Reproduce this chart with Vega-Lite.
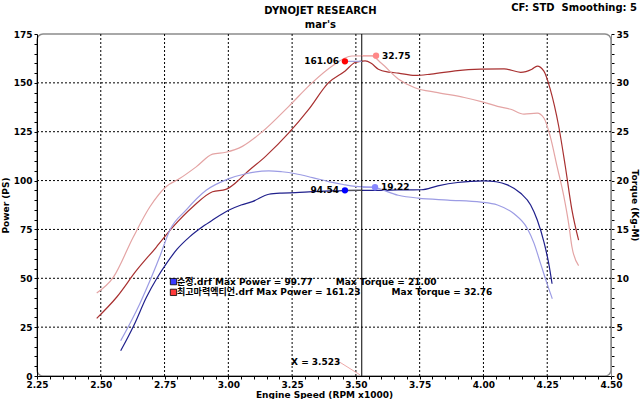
{
  "$schema": "https://vega.github.io/schema/vega-lite/v6.json",
  "width": 574,
  "height": 342,
  "autosize": "none",
  "padding": {"left": 37, "top": 34, "right": 29, "bottom": 23},
  "background": "white",
  "config": {
    "view": {"stroke": "#8c8c8c", "strokeWidth": 1.5, "cornerRadius": 6},
    "font": "DejaVu Sans",
    "axis": {
      "labelFont": "DejaVu Sans", "labelFontWeight": "bold", "labelFontSize": 9, "labelColor": "#000",
      "titleFont": "DejaVu Sans", "titleFontWeight": "bold", "titleFontSize": 9, "titleColor": "#000",
      "domainColor": "#000", "tickColor": "#000", "tickSize": 3, "grid": false, "labelOverlap": false, "labelFlush": false
    }
  },
  "datasets": {
    "curves": [
      {"series": "A-Power", "rpm": 2.578, "value": 12.9}, {"series": "A-Power", "rpm": 2.63, "value": 26.0}, {"series": "A-Power", "rpm": 2.679, "value": 40.3}, {"series": "A-Power", "rpm": 2.72, "value": 50.0}, {"series": "A-Power", "rpm": 2.757, "value": 57.5}, {"series": "A-Power", "rpm": 2.8, "value": 65.0}, {"series": "A-Power", "rpm": 2.848, "value": 71.2}, {"series": "A-Power", "rpm": 2.9, "value": 76.5}, {"series": "A-Power", "rpm": 2.938, "value": 79.8}, {"series": "A-Power", "rpm": 3.003, "value": 84.9}, {"series": "A-Power", "rpm": 3.05, "value": 87.5}, {"series": "A-Power", "rpm": 3.094, "value": 89.2}, {"series": "A-Power", "rpm": 3.159, "value": 93.0}, {"series": "A-Power", "rpm": 3.21, "value": 93.6}, {"series": "A-Power", "rpm": 3.263, "value": 93.8}, {"series": "A-Power", "rpm": 3.328, "value": 94.3}, {"series": "A-Power", "rpm": 3.4, "value": 94.7}, {"series": "A-Power", "rpm": 3.449, "value": 94.9}, {"series": "A-Power", "rpm": 3.52, "value": 95.0}, {"series": "A-Power", "rpm": 3.6, "value": 95.0}, {"series": "A-Power", "rpm": 3.666, "value": 95.2}, {"series": "A-Power", "rpm": 3.756, "value": 95.3}, {"series": "A-Power", "rpm": 3.821, "value": 97.3}, {"series": "A-Power", "rpm": 3.899, "value": 99.0}, {"series": "A-Power", "rpm": 3.95, "value": 99.6}, {"series": "A-Power", "rpm": 4.003, "value": 99.8}, {"series": "A-Power", "rpm": 4.05, "value": 99.4}, {"series": "A-Power", "rpm": 4.094, "value": 97.8}, {"series": "A-Power", "rpm": 4.146, "value": 93.5}, {"series": "A-Power", "rpm": 4.185, "value": 87.5}, {"series": "A-Power", "rpm": 4.211, "value": 79.8}, {"series": "A-Power", "rpm": 4.237, "value": 68.6}, {"series": "A-Power", "rpm": 4.256, "value": 57.5}, {"series": "A-Power", "rpm": 4.269, "value": 47.2},
      {"series": "B-Power", "rpm": 2.484, "value": 29.5}, {"series": "B-Power", "rpm": 2.562, "value": 40.3}, {"series": "B-Power", "rpm": 2.64, "value": 54.0}, {"series": "B-Power", "rpm": 2.718, "value": 66.0}, {"series": "B-Power", "rpm": 2.783, "value": 76.3}, {"series": "B-Power", "rpm": 2.861, "value": 86.6}, {"series": "B-Power", "rpm": 2.938, "value": 94.3}, {"series": "B-Power", "rpm": 2.99, "value": 95.5}, {"series": "B-Power", "rpm": 3.03, "value": 99.0}, {"series": "B-Power", "rpm": 3.069, "value": 103.8}, {"series": "B-Power", "rpm": 3.146, "value": 112.4}, {"series": "B-Power", "rpm": 3.237, "value": 124.4}, {"series": "B-Power", "rpm": 3.315, "value": 136.4}, {"series": "B-Power", "rpm": 3.393, "value": 150.1}, {"series": "B-Power", "rpm": 3.458, "value": 156.1}, {"series": "B-Power", "rpm": 3.497, "value": 160.4}, {"series": "B-Power", "rpm": 3.536, "value": 161.2}, {"series": "B-Power", "rpm": 3.56, "value": 160.0}, {"series": "B-Power", "rpm": 3.588, "value": 157.0}, {"series": "B-Power", "rpm": 3.63, "value": 155.5}, {"series": "B-Power", "rpm": 3.666, "value": 155.0}, {"series": "B-Power", "rpm": 3.731, "value": 153.8}, {"series": "B-Power", "rpm": 3.795, "value": 154.5}, {"series": "B-Power", "rpm": 3.899, "value": 156.3}, {"series": "B-Power", "rpm": 3.99, "value": 157.0}, {"series": "B-Power", "rpm": 4.081, "value": 157.2}, {"series": "B-Power", "rpm": 4.146, "value": 155.4}, {"series": "B-Power", "rpm": 4.19, "value": 157.0}, {"series": "B-Power", "rpm": 4.211, "value": 158.6}, {"series": "B-Power", "rpm": 4.237, "value": 156.0}, {"series": "B-Power", "rpm": 4.262, "value": 146.7}, {"series": "B-Power", "rpm": 4.295, "value": 127.8}, {"series": "B-Power", "rpm": 4.321, "value": 107.2}, {"series": "B-Power", "rpm": 4.347, "value": 84.9}, {"series": "B-Power", "rpm": 4.373, "value": 69.5},
      {"series": "A-Torque", "rpm": 2.578, "value": 3.6}, {"series": "A-Torque", "rpm": 2.653, "value": 7.4}, {"series": "A-Torque", "rpm": 2.7, "value": 10.2}, {"series": "A-Torque", "rpm": 2.731, "value": 12.2}, {"series": "A-Torque", "rpm": 2.77, "value": 14.9}, {"series": "A-Torque", "rpm": 2.835, "value": 17.0}, {"series": "A-Torque", "rpm": 2.913, "value": 19.0}, {"series": "A-Torque", "rpm": 3.003, "value": 20.2}, {"series": "A-Torque", "rpm": 3.069, "value": 20.7}, {"series": "A-Torque", "rpm": 3.159, "value": 21.0}, {"series": "A-Torque", "rpm": 3.21, "value": 20.9}, {"series": "A-Torque", "rpm": 3.263, "value": 20.7}, {"series": "A-Torque", "rpm": 3.33, "value": 20.3}, {"series": "A-Torque", "rpm": 3.393, "value": 19.9}, {"series": "A-Torque", "rpm": 3.45, "value": 19.6}, {"series": "A-Torque", "rpm": 3.497, "value": 19.4}, {"series": "A-Torque", "rpm": 3.568, "value": 19.3}, {"series": "A-Torque", "rpm": 3.666, "value": 18.5}, {"series": "A-Torque", "rpm": 3.744, "value": 18.2}, {"series": "A-Torque", "rpm": 3.861, "value": 18.0}, {"series": "A-Torque", "rpm": 3.99, "value": 17.8}, {"series": "A-Torque", "rpm": 4.055, "value": 17.5}, {"series": "A-Torque", "rpm": 4.12, "value": 16.6}, {"series": "A-Torque", "rpm": 4.172, "value": 15.1}, {"series": "A-Torque", "rpm": 4.198, "value": 13.6}, {"series": "A-Torque", "rpm": 4.224, "value": 11.5}, {"series": "A-Torque", "rpm": 4.25, "value": 9.4}, {"series": "A-Torque", "rpm": 4.27, "value": 7.9},
      {"series": "B-Torque", "rpm": 2.484, "value": 8.5}, {"series": "B-Torque", "rpm": 2.549, "value": 10.1}, {"series": "B-Torque", "rpm": 2.627, "value": 14.2}, {"series": "B-Torque", "rpm": 2.692, "value": 17.3}, {"series": "B-Torque", "rpm": 2.757, "value": 19.4}, {"series": "B-Torque", "rpm": 2.809, "value": 20.2}, {"series": "B-Torque", "rpm": 2.874, "value": 21.4}, {"series": "B-Torque", "rpm": 2.938, "value": 22.7}, {"series": "B-Torque", "rpm": 2.99, "value": 22.9}, {"series": "B-Torque", "rpm": 3.055, "value": 23.5}, {"series": "B-Torque", "rpm": 3.133, "value": 25.0}, {"series": "B-Torque", "rpm": 3.237, "value": 27.6}, {"series": "B-Torque", "rpm": 3.328, "value": 30.0}, {"series": "B-Torque", "rpm": 3.406, "value": 31.7}, {"series": "B-Torque", "rpm": 3.484, "value": 32.75}, {"series": "B-Torque", "rpm": 3.562, "value": 32.76}, {"series": "B-Torque", "rpm": 3.6, "value": 32.0}, {"series": "B-Torque", "rpm": 3.666, "value": 30.4}, {"series": "B-Torque", "rpm": 3.731, "value": 29.5}, {"series": "B-Torque", "rpm": 3.821, "value": 29.0}, {"series": "B-Torque", "rpm": 3.925, "value": 28.5}, {"series": "B-Torque", "rpm": 4.003, "value": 28.0}, {"series": "B-Torque", "rpm": 4.055, "value": 27.6}, {"series": "B-Torque", "rpm": 4.107, "value": 27.3}, {"series": "B-Torque", "rpm": 4.159, "value": 26.8}, {"series": "B-Torque", "rpm": 4.211, "value": 26.9}, {"series": "B-Torque", "rpm": 4.237, "value": 26.4}, {"series": "B-Torque", "rpm": 4.262, "value": 24.5}, {"series": "B-Torque", "rpm": 4.289, "value": 21.4}, {"series": "B-Torque", "rpm": 4.315, "value": 18.4}, {"series": "B-Torque", "rpm": 4.334, "value": 15.6}, {"series": "B-Torque", "rpm": 4.347, "value": 13.2}, {"series": "B-Torque", "rpm": 4.373, "value": 11.3}
    ],
    "markers": [
      {"id": "b", "rpm": 3.457, "ps": 95.0, "label": "94.54", "side": "left"},
      {"id": "lb", "rpm": 3.575, "ps": 96.6, "label": "19.22", "side": "right"},
      {"id": "r", "rpm": 3.457, "ps": 161.0, "label": "161.06", "side": "left"},
      {"id": "lr", "rpm": 3.579, "ps": 163.9, "label": "32.75", "side": "right"}
    ],
    "connectors": [
      {"id": "b", "rpm": 3.457, "rpm2": 3.523, "ps": 95.0},
      {"id": "lb", "rpm": 3.523, "rpm2": 3.575, "ps": 96.6},
      {"id": "r", "rpm": 3.457, "rpm2": 3.523, "ps": 161.0},
      {"id": "lr", "rpm": 3.523, "rpm2": 3.579, "ps": 163.9}
    ],
    "legendRows": [
      {"id": "A", "rpm": 2.785, "ps": 48.3},
      {"id": "B", "rpm": 2.785, "ps": 42.8}
    ],
    "texts": [
      {"rpm": 2.799, "ps": 48.3, "t": "순정.drf Max Power = 99.77"},
      {"rpm": 3.421, "ps": 48.3, "t": "Max Torque = 21.00"},
      {"rpm": 2.799, "ps": 42.8, "t": "최고마력엑티언.drf Max Power = 161.23"},
      {"rpm": 3.64, "ps": 42.8, "t": "Max Torque = 32.76"},
      {"rpm": 3.246, "ps": 7.2, "t": "X = 3.523"}
    ],
    "headers": [
      {"rpm": 3.361, "ps": 186.8, "t": "DYNOJET RESEARCH", "pos": "center"},
      {"rpm": 3.361, "ps": 179.6, "t": "mar's", "pos": "center"},
      {"rpm": 4.602, "ps": 188.4, "t": "CF: STD\u00a0\u00a0Smoothing: 5", "pos": "right"}
    ],
    "vgrid": [{"rpm": 2.5}, {"rpm": 2.75}, {"rpm": 3.0}, {"rpm": 3.25}, {"rpm": 3.5}, {"rpm": 3.75}, {"rpm": 4.0}, {"rpm": 4.25}],
    "hgrid": [{"ps": 25}, {"ps": 50}, {"ps": 75}, {"ps": 100}, {"ps": 125}, {"ps": 150}]
  },
  "layer": [
    {
      "data": {"name": "vgrid"},
      "mark": {"type": "rule", "color": "#000", "strokeWidth": 1, "strokeDash": [2, 2]},
      "encoding": {
        "x": {
          "field": "rpm", "type": "quantitative",
          "scale": {"domain": [2.25, 4.5], "nice": false, "zero": false},
          "axis": {
            "title": "Engine Speed (RPM x1000)",
            "values": [2.25, 2.3, 2.35, 2.4, 2.45, 2.5, 2.55, 2.6, 2.65, 2.7, 2.75, 2.8, 2.85, 2.9, 2.95, 3.0, 3.05, 3.1, 3.15, 3.2, 3.25, 3.3, 3.35, 3.4, 3.45, 3.5, 3.55, 3.6, 3.65, 3.7, 3.75, 3.8, 3.85, 3.9, 3.95, 4.0, 4.05, 4.1, 4.15, 4.2, 4.25, 4.3, 4.35, 4.4, 4.45, 4.5],
            "labelExpr": "abs(datum.value * 4 - round(datum.value * 4)) < 0.001 ? format(datum.value, '.2f') : ''",
            "labelPadding": 1, "titlePadding": 1, "labelFlush": false, "labelOverlap": false
          }
        }
      }
    },
    {
      "data": {"name": "hgrid"},
      "mark": {"type": "rule", "color": "#000", "strokeWidth": 1, "strokeDash": [2, 2]},
      "encoding": {
        "y": {
          "field": "ps", "type": "quantitative",
          "scale": {"domain": [0, 175], "nice": false},
          "axis": {
            "orient": "left",
            "title": "Power (PS)",
            "values": [0, 5, 10, 15, 20, 25, 30, 35, 40, 45, 50, 55, 60, 65, 70, 75, 80, 85, 90, 95, 100, 105, 110, 115, 120, 125, 130, 135, 140, 145, 150, 155, 160, 165, 170, 175],
            "labelExpr": "datum.value % 25 == 0 ? datum.label : ''",
            "labelPadding": 2, "titlePadding": 3, "labelOverlap": false
          }
        }
      }
    },
    {
      "data": {"name": "curves"},
      "transform": [{"filter": "indexof(datum.series, 'Power') >= 0"}],
      "mark": {"type": "line", "strokeWidth": 1.2, "interpolate": "monotone"},
      "encoding": {
        "x": {"field": "rpm", "type": "quantitative", "scale": {"domain": [2.25, 4.5], "nice": false, "zero": false}, "axis": null},
        "y": {"field": "value", "type": "quantitative", "scale": {"domain": [0, 175], "nice": false}, "axis": null},
        "color": {"field": "series", "type": "nominal", "legend": null,
          "scale": {"domain": ["A-Power", "A-Torque", "B-Power", "B-Torque"], "range": ["#20208c", "#9c9ce4", "#a83030", "#e4a4a4"]}}
      }
    },
    {
      "data": {"name": "curves"},
      "transform": [{"filter": "indexof(datum.series, 'Torque') >= 0"}],
      "mark": {"type": "line", "strokeWidth": 1.2, "interpolate": "monotone"},
      "encoding": {
        "x": {"field": "rpm", "type": "quantitative", "scale": {"domain": [2.25, 4.5], "nice": false, "zero": false}, "axis": null},
        "y": {
          "field": "value", "type": "quantitative",
          "scale": {"domain": [0, 35], "nice": false},
          "axis": {
            "orient": "right",
            "title": "Torque (Kg-M)",
            "values": [0, 1, 2, 3, 4, 5, 6, 7, 8, 9, 10, 11, 12, 13, 14, 15, 16, 17, 18, 19, 20, 21, 22, 23, 24, 25, 26, 27, 28, 29, 30, 31, 32, 33, 34, 35],
            "labelExpr": "datum.value % 5 == 0 ? datum.label : ''",
            "domainColor": "#8c8c8c",
            "labelPadding": 2, "titlePadding": 1, "labelOverlap": false
          }
        },
        "color": {"field": "series", "type": "nominal", "legend": null}
      }
    },
    {
      "data": {"values": [{"rpm": 3.523}]},
      "mark": {"type": "rule", "color": "#000", "strokeWidth": 1},
      "encoding": {"x": {"field": "rpm", "type": "quantitative", "scale": {"domain": [2.25, 4.5], "nice": false, "zero": false}, "axis": null}}
    },
    {
      "data": {"name": "connectors"},
      "mark": {"type": "rule", "strokeWidth": 1.2},
      "encoding": {
        "x": {"field": "rpm", "type": "quantitative", "scale": {"domain": [2.25, 4.5], "nice": false, "zero": false}, "axis": null},
        "x2": {"field": "rpm2"},
        "y": {"field": "ps", "type": "quantitative", "scale": {"domain": [0, 175], "nice": false}, "axis": null},
        "stroke": {"field": "id", "type": "nominal", "legend": null,
          "scale": {"domain": ["b", "lb", "r", "lr"], "range": ["#555555", "#9a9aee", "#a0a0dc", "#f0a8a8"]}}
      }
    },
    {
      "data": {"values": [{"rpm": 3.418, "rpm2": 3.516, "ps": 8.6, "ps2": 0.6}]},
      "mark": {"type": "rule", "color": "#e89090", "strokeWidth": 0.8},
      "encoding": {
        "x": {"field": "rpm", "type": "quantitative", "scale": {"domain": [2.25, 4.5], "nice": false, "zero": false}, "axis": null},
        "x2": {"field": "rpm2"},
        "y": {"field": "ps", "type": "quantitative", "scale": {"domain": [0, 175], "nice": false}, "axis": null},
        "y2": {"field": "ps2"}
      }
    },
    {
      "data": {"name": "markers"},
      "mark": {"type": "point", "filled": true, "shape": "circle", "size": 40, "opacity": 1},
      "encoding": {
        "x": {"field": "rpm", "type": "quantitative", "scale": {"domain": [2.25, 4.5], "nice": false, "zero": false}, "axis": null},
        "y": {"field": "ps", "type": "quantitative", "scale": {"domain": [0, 175], "nice": false}, "axis": null},
        "fill": {"field": "id", "type": "nominal", "legend": null,
          "scale": {"domain": ["b", "lb", "r", "lr", "A", "B"], "range": ["#0000ff", "#8888ff", "#ff0000", "#ff8888", "#3a3aff", "#ff3a3a"]}}
      }
    },
    {
      "data": {"name": "legendRows"},
      "mark": {"type": "point", "filled": true, "shape": "square", "size": 40, "opacity": 1, "stroke": "#000", "strokeWidth": 0.8},
      "encoding": {
        "x": {"field": "rpm", "type": "quantitative", "scale": {"domain": [2.25, 4.5], "nice": false, "zero": false}, "axis": null},
        "y": {"field": "ps", "type": "quantitative", "scale": {"domain": [0, 175], "nice": false}, "axis": null},
        "fill": {"field": "id", "type": "nominal", "legend": null}
      }
    },
    {
      "data": {"name": "markers"},
      "transform": [{"filter": "datum.side == 'left'"}],
      "mark": {"type": "text", "align": "right", "baseline": "middle", "dx": -6, "font": "DejaVu Sans", "fontWeight": "bold", "fontSize": 9, "color": "#000"},
      "encoding": {
        "x": {"field": "rpm", "type": "quantitative", "scale": {"domain": [2.25, 4.5], "nice": false, "zero": false}, "axis": null},
        "y": {"field": "ps", "type": "quantitative", "scale": {"domain": [0, 175], "nice": false}, "axis": null},
        "text": {"field": "label"}
      }
    },
    {
      "data": {"name": "markers"},
      "transform": [{"filter": "datum.side == 'right'"}],
      "mark": {"type": "text", "align": "left", "baseline": "middle", "dx": 6, "font": "DejaVu Sans", "fontWeight": "bold", "fontSize": 9, "color": "#000"},
      "encoding": {
        "x": {"field": "rpm", "type": "quantitative", "scale": {"domain": [2.25, 4.5], "nice": false, "zero": false}, "axis": null},
        "y": {"field": "ps", "type": "quantitative", "scale": {"domain": [0, 175], "nice": false}, "axis": null},
        "text": {"field": "label"}
      }
    },
    {
      "data": {"name": "texts"},
      "mark": {"type": "text", "align": "left", "baseline": "middle", "font": "DejaVu Sans, Noto Sans CJK KR", "fontWeight": "bold", "fontSize": 9, "color": "#000"},
      "encoding": {
        "x": {"field": "rpm", "type": "quantitative", "scale": {"domain": [2.25, 4.5], "nice": false, "zero": false}, "axis": null},
        "y": {"field": "ps", "type": "quantitative", "scale": {"domain": [0, 175], "nice": false}, "axis": null},
        "text": {"field": "t"}
      }
    },
    {
      "data": {"name": "headers"},
      "transform": [{"filter": "datum.pos == 'center'"}],
      "mark": {"type": "text", "align": "center", "baseline": "middle", "font": "DejaVu Sans", "fontWeight": "bold", "fontSize": 10, "color": "#000"},
      "encoding": {
        "x": {"field": "rpm", "type": "quantitative", "scale": {"domain": [2.25, 4.5], "nice": false, "zero": false}, "axis": null},
        "y": {"field": "ps", "type": "quantitative", "scale": {"domain": [0, 175], "nice": false}, "axis": null},
        "text": {"field": "t"}
      }
    },
    {
      "data": {"name": "headers"},
      "transform": [{"filter": "datum.pos == 'right'"}],
      "mark": {"type": "text", "align": "right", "baseline": "middle", "font": "DejaVu Sans", "fontWeight": "bold", "fontSize": 10, "color": "#000"},
      "encoding": {
        "x": {"field": "rpm", "type": "quantitative", "scale": {"domain": [2.25, 4.5], "nice": false, "zero": false}, "axis": null},
        "y": {"field": "ps", "type": "quantitative", "scale": {"domain": [0, 175], "nice": false}, "axis": null},
        "text": {"field": "t"}
      }
    }
  ],
  "resolve": {"scale": {"x": "independent", "y": "independent"}}
}
